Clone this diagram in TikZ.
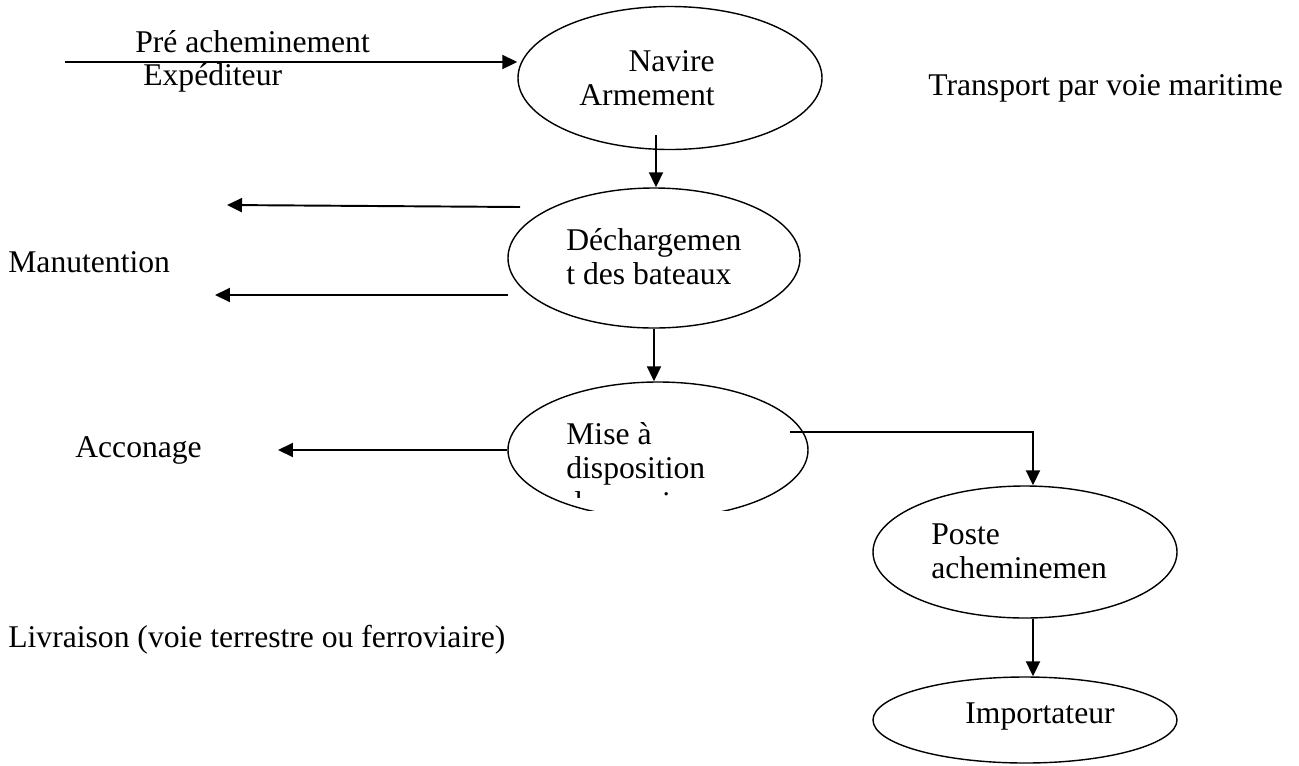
\documentclass[tikz,border=0pt]{standalone}
\usepackage{fontspec}
\setmainfont{Liberation Serif}
\usetikzlibrary{positioning,arrows.meta,shapes.geometric}

\begin{document}
\begin{tikzpicture}[
    x=0.02cm, y=-0.02cm,
    font=\fontsize{18}{19.5}\selectfont,
    etape/.style={ellipse, draw, line width=0.8pt, inner sep=0pt},
    txt/.style={inner sep=0pt, align=left},
    arrow/.style={-{Triangle[length=0.3cm, width=0.28cm]}, line width=1.1pt}
]
\useasboundingbox (0,0) rectangle (1299,765);

% Ellipses
\node[etape, minimum width=304*0.02cm, minimum height=143*0.02cm] (navire) at (670,78) {};
\node[etape, minimum width=292*0.02cm, minimum height=140*0.02cm] (dech) at (654,258) {};
\begin{scope}
  \clip (400,370) rectangle (850,510);
  \node[etape, minimum width=300*0.02cm, minimum height=136*0.02cm] (mise) at (658,450) {};
\end{scope}
\node[etape, minimum width=304*0.02cm, minimum height=132*0.02cm] (poste) at (1025,552) {};
\node[etape, minimum width=304*0.02cm, minimum height=86*0.02cm] (import) at (1025,720) {};

% Texts in the ellipses
\node[txt, align=right, anchor=east] (navire_t) at (715,78) {Navire\\Armement};
\node[txt, anchor=west] (dech_t) at (566,257) {Déchargemen\\t des bateaux};
\begin{scope}
  \clip (400,370) rectangle (850,497);
  \node[txt, anchor=west] (mise_t) at (566,468) {Mise à\\disposition\\des navires};
\end{scope}
\node[txt, anchor=west] (poste_t) at (931,551) {Poste\\acheminemen};
\node[txt] (import_t) at (1040,717) {Importateur};

% Free texts
\node[txt, anchor=west] (pre) at (135,42) {Pré acheminement};
\node[txt, anchor=west] (exp) at (143,78) {Expéditeur};
\node[txt, anchor=west] (transport) at (928,88) {Transport par voie maritime};
\node[txt, anchor=west] (manut) at (8,262) {Manutention};
\node[txt, anchor=west] (accon) at (75,450) {Acconage};
\node[txt, anchor=west] (livr) at (8,640) {Livraison (voie terrestre ou ferroviaire)};

% Free ends
\coordinate (pre_in) at (65,62);
\coordinate (nav_out) at (656,135);
\coordinate (man_a) at (520,207);
\coordinate (man_a_tip) at (227,205);
\coordinate (man_b) at (508,295);
\coordinate (man_b_tip) at (215,295);
\coordinate (acc_tip) at (278,450);
\coordinate (mise_out) at (790,432);
\coordinate (turn) at (1033,432);

% Arrows
\draw[arrow] (pre_in) -- (pre_in -| navire.west);
\draw[arrow] (nav_out) -- (nav_out |- dech.north);
\draw[arrow] (man_a) -- (man_a_tip);
\draw[arrow] (man_b) -- (man_b_tip);
\draw[arrow] (dech.south) -- (dech.south |- mise.north);
\draw[arrow] (mise.west) -- (acc_tip);
\draw[arrow] (mise_out) -- (turn) -- (turn |- poste.north);
\draw[arrow] (poste.south -| turn) -- (turn |- import.north);

\end{tikzpicture}
\end{document}
